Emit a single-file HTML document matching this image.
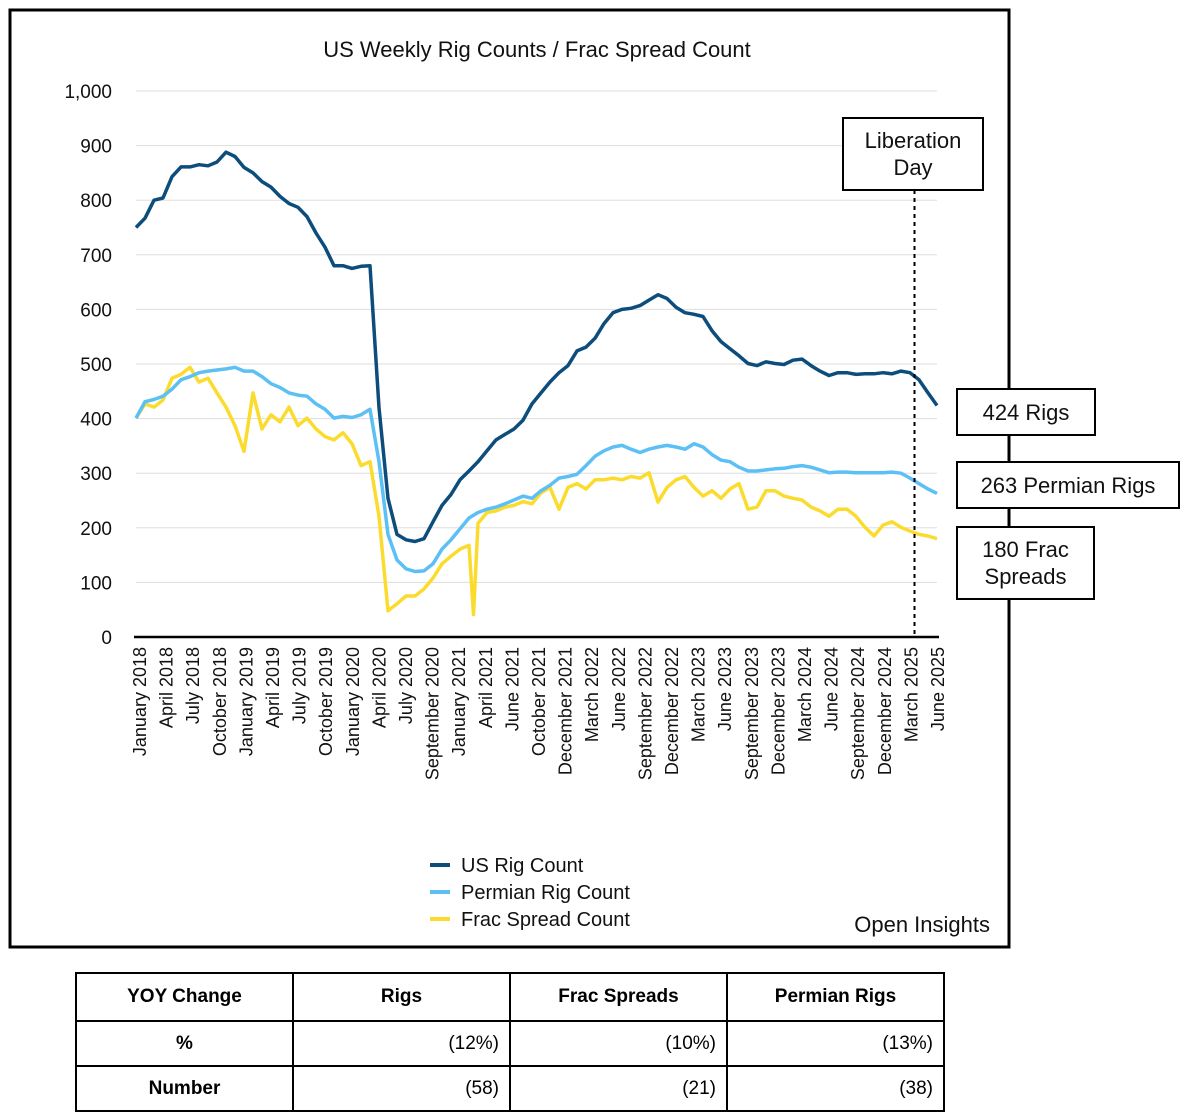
<!DOCTYPE html>
<html><head><meta charset="utf-8">
<style>
body{margin:0;background:#fff;width:1186px;height:1120px;position:relative;font-family:"Liberation Sans",Arial,sans-serif;overflow:hidden}
svg{position:absolute;left:0;top:0}
table{position:absolute;left:75px;top:972px;border-collapse:collapse;font-size:19px;table-layout:fixed;width:869px}
td,th{border:2px solid #000;width:217px;padding:0 10px;box-sizing:border-box}
th{height:48px;font-weight:bold;text-align:center}
td{height:45px;text-align:right}
td.h{font-weight:bold;text-align:center}
</style></head><body>
<svg id="chart" width="1186" height="960"></svg>
<table>
<tr><th>YOY Change</th><th>Rigs</th><th>Frac Spreads</th><th>Permian Rigs</th></tr>
<tr><td class="h">%</td><td>(12%)</td><td>(10%)</td><td>(13%)</td></tr>
<tr><td class="h">Number</td><td>(58)</td><td>(21)</td><td>(38)</td></tr>
</table>
<script>
const xLabels=["January 2018","April 2018","July 2018","October 2018","January 2019","April 2019","July 2019","October 2019","January 2020","April 2020","July 2020","September 2020","January 2021","April 2021","June 2021","October 2021","December 2021","March 2022","June 2022","September 2022","December 2022","March 2023","June 2023","September 2023","December 2023","March 2024","June 2024","September 2024","December 2024","March 2025","June 2025"];
const yTicks=[0,100,200,300,400,500,600,700,800,900,1000];
const usRigs=[750,767,800,804,843,861,861,865,863,870,888,880,860,850,834,824,807,794,787,770,740,714,680,680,675,679,680,420,254,188,178,175,180,211,241,261,288,304,321,341,361,371,381,397,427,447,467,484,497,524,531,547,574,594,600,602,607,617,627,620,604,594,591,587,561,541,528,515,501,497,504,501,499,507,509,497,487,479,484,484,481,482,482,484,482,487,484,471,447,424];
const permianRigs=[401,431,435,441,454,471,477,484,487,489,491,494,487,487,477,464,457,447,443,441,427,417,401,404,402,407,417,321,188,141,125,120,121,134,161,178,198,218,228,234,238,244,251,258,254,268,278,291,294,298,314,331,341,348,351,344,338,344,348,351,348,344,354,348,334,324,321,311,304,304,306,308,309,312,314,311,306,301,302,302,301,301,301,301,302,300,291,281,271,263];
const fracMonths=[0,1,2,3,4,5,6,7,8,9,10,11,12,13,14,15,16,17,18,19,20,21,22,23,24,25,26,27,28,29,30,31,32,33,34,35,36,37,37.5,38,39,40,41,42,43,44,45,46,47,48,49,50,51,52,53,54,55,56,57,58,59,60,61,62,63,64,65,66,67,68,69,70,71,72,73,74,75,76,77,78,79,80,81,82,83,84,85,86,87,88,89];
const fracSpreads=[401,427,421,434,474,481,494,467,474,447,421,387,340,447,381,407,394,421,387,401,381,367,361,374,354,314,321,221,48,61,75,75,88,108,134,148,161,168,41,208,228,231,238,241,248,244,264,274,234,274,281,271,288,288,291,288,294,291,301,247,274,288,294,274,258,268,254,271,281,234,238,268,268,258,254,251,238,231,221,234,234,221,201,185,205,211,201,194,188,185,180];
const libDayMonth=86.5;

const svg=document.getElementById('chart');
const NS='http://www.w3.org/2000/svg';
const X0=136,X1=937,Y0=637,Y1=91,MMAX=89;
const xs=m=>X0+(X1-X0)*m/MMAX;
const ys=v=>Y0-(Y0-Y1)*v/1000;
function mk(tag,attrs,text){const e=document.createElementNS(NS,tag);for(const k in attrs)e.setAttribute(k,attrs[k]);if(text!==undefined)e.textContent=text;svg.appendChild(e);return e;}

let e=mk('rect',{x:10,y:10,width:999,height:937,fill:'#fff',stroke:'#000','stroke-width':3});


e=mk('text',{x:537,y:57,'font-size':22,'text-anchor':'middle',fill:'#111'},'US Weekly Rig Counts / Frac Spread Count');



yTicks.forEach(v=>{
  if(v>0){const g=mk('line',{x1:X0,x2:X1,y1:ys(v),y2:ys(v),stroke:'#ddd','stroke-width':1});
  
  }
  const t=mk('text',{x:112,y:ys(v)+7,'font-size':19,'text-anchor':'end',fill:'#111'},v.toLocaleString('en-US'));
  
  
});
e=mk('line',{x1:134,x2:939,y1:Y0,y2:Y0,stroke:'#000','stroke-width':2.5});



xLabels.forEach((l,i)=>{
  const x=140+i*(938-140)/(xLabels.length-1);
  const t=mk('text',{x:0,y:0,'font-size':18,'text-anchor':'end',fill:'#111',transform:`translate(${x+6},647) rotate(-90)`},l);
  
  
});

function line(vals,months,color,name){
  const d=vals.map((v,i)=>(i?'L':'M')+xs(months?months[i]:i).toFixed(1)+','+ys(v).toFixed(1)).join('');
  const p=mk('path',{d:d,fill:'none',stroke:color,'stroke-width':3.5,'stroke-linejoin':'round'});
  
  
}
line(fracSpreads,fracMonths,'#fbdc2e','frac-spread-line');
line(permianRigs,null,'#5cc0f5','permian-rig-line');
line(usRigs,null,'#0c4d7c','us-rig-line');

const lx=xs(libDayMonth);
e=mk('line',{x1:lx,x2:lx,y1:190,y2:636,stroke:'#000','stroke-width':2,'stroke-dasharray':'4,4'});


function box(x,y,w,h,lines,name,dy){
  const r=mk('rect',{x:x,y:y,width:w,height:h,fill:'#fff',stroke:'#000','stroke-width':2});
  
  
  lines.forEach((l,i)=>{const t=mk('text',{x:x+w/2,y:y+dy+i*27,'font-size':22,'text-anchor':'middle',fill:'#111'},l);
  
  });
}
box(843,118,140,72,['Liberation','Day'],'liberation-day-label',30);
box(957,389,138,46,['424 Rigs'],'us-rig-end-label',31);
box(957,462,222,46,['263 Permian Rigs'],'permian-end-label',31);
box(957,527,137,72,['180 Frac','Spreads'],'frac-end-label',30);

[['US Rig Count','#0c4d7c'],['Permian Rig Count','#5cc0f5'],['Frac Spread Count','#fbdc2e']].forEach((s,i)=>{
  const y=865+i*27;
  const l=mk('line',{x1:430,x2:450,y1:y,y2:y,stroke:s[1],'stroke-width':4});
  
  
  const t=mk('text',{x:461,y:y+7,'font-size':20,fill:'#111'},s[0]);
  
  
});
e=mk('text',{x:990,y:932,'font-size':22,'text-anchor':'end',fill:'#111'},'Open Insights');


</script>
</body></html>
